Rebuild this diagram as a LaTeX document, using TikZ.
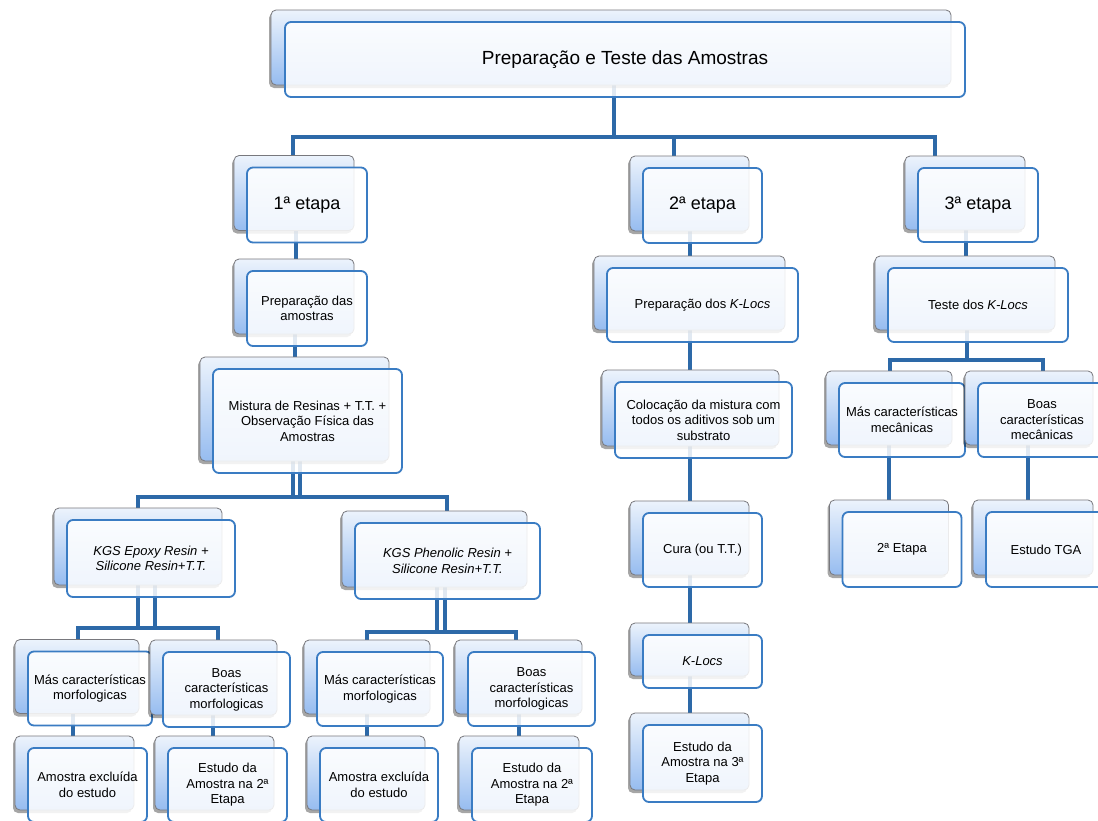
\documentclass[tikz,border=0pt]{standalone}
\usepackage{fontspec}
\setmainfont{Liberation Sans}
\usetikzlibrary{shadows}
\definecolor{connc}{RGB}{45,105,168}
\definecolor{frontblue}{RGB}{58,124,195}
\definecolor{backtop}{RGB}{236,243,252}
\definecolor{backbot}{RGB}{150,188,240}
\definecolor{backdraw}{RGB}{120,120,125}
\pgfdeclarelayer{background}
\pgfsetlayers{background,main}
\newcommand\card[6]{%
  \node[backcard,minimum width=#4pt,minimum height=#5pt] (#1b) at ({#2-13},{#3-12}) {};
  \node[frontcard,minimum width=#4pt,minimum height=#5pt] (#1) at (#2,#3) {#6};}
\tikzset{
  backcard/.style={rectangle,rounded corners=5pt,draw=backdraw,line width=0.8pt,
    top color=backtop,bottom color=backbot,inner sep=0pt,
    drop shadow={shadow xshift=-2pt,shadow yshift=-3pt,opacity=0.35,fill=black}},
  frontcard/.style={rectangle,rounded corners=6pt,draw=frontblue,line width=1.8pt,
    fill=white,fill opacity=0.86,text opacity=1,inner sep=2pt,align=center,
    font=\fontsize{13}{15.5}\selectfont},
  conn/.style={draw=connc,line width=4.5pt},
  big/.style={font=\fontsize{19}{22}\selectfont},
  mid/.style={font=\fontsize{18}{21}\selectfont},
}
\begin{document}
\begin{tikzpicture}[x=1pt,y=-1pt]
\useasboundingbox (0,0) rectangle (1098,820);
% title
\node[backcard,minimum width=680pt,minimum height=75pt] (titleb) at (611,47.5) {};
\node[frontcard,big,minimum width=680pt,minimum height=75pt] (title) at (625,59.5) {Preparação e Teste das Amostras};
% etapas
\tikzset{frontcard/.append style={mid}}
\card{e1}{307}{205}{120}{75}{1ª etapa}
\card{e2}{702.5}{205.5}{119}{75}{2ª etapa}
\card{e3}{978}{205}{120}{74}{3ª etapa}
\tikzset{frontcard/.append style={font=\fontsize{13}{15.5}\selectfont}}
% column 1
\card{prep1}{307}{308.5}{120}{75}{Preparação das\\amostras}
\card{mist}{307.5}{421}{189}{104}{Mistura de Resinas + T.T. +\\Observação Física das\\Amostras}
\card{epoxy}{151}{558.5}{168}{77}{\itshape KGS Epoxy Resin +\\\itshape Silicone Resin+T.T.}
\card{phen}{447.5}{561}{185}{76}{\itshape KGS Phenolic Resin +\\\itshape Silicone Resin+T.T.}
\card{mas1}{90}{688.5}{124}{74}{Más características\\morfologicas}
\card{boas1}{226.5}{689.5}{127}{75}{Boas\\características\\morfologicas}
\card{am1}{87.5}{785}{119}{74}{Amostra excluída\\do estudo}
\card{est1}{227.5}{785}{119}{74}{Estudo da\\Amostra na 2ª\\Etapa}
\card{mas2}{380}{689}{126}{74}{Más características\\morfologicas}
\card{boas2}{531.5}{689}{127}{74}{Boas\\características\\morfologicas}
\card{am2}{379}{785}{118}{74}{Amostra excluída\\do estudo}
\card{est2}{532}{785}{120}{74}{Estudo da\\Amostra na 2ª\\Etapa}
% column 2
\card{prepk}{702.5}{305}{191}{74}{Preparação dos \textit{K-Locs}}
\card{coloc}{703.5}{420}{177}{76}{Colocação da mistura com\\todos os aditivos sob um\\substrato}
\card{cura}{702.5}{550}{119}{74}{Cura (ou T.T.)}
\card{kloc}{702.5}{661.5}{119}{53}{\textit{K-Locs}}
\card{est3}{702.5}{763.5}{119}{77}{Estudo da\\Amostra na 3ª\\Etapa}
% column 3
\card{teste}{978}{305}{180}{74}{Teste dos \textit{K-Locs}}
\card{mas3}{902}{420}{126}{74}{Más características\\mecânicas}
\card{boas3}{1042}{420}{128}{74}{Boas\\características\\mecânicas}
\card{et2}{902}{549.5}{119}{75}{2ª Etapa}
\card{tga}{1046}{549.5}{120}{75}{Estudo TGA}
% junction coordinates
\coordinate (t0) at (614,137);
\coordinate (t1) at (293,137);
\coordinate (t2) at (674,137);
\coordinate (t3) at (935,137);
\coordinate (m0) at (296,497);
\coordinate (m1) at (138,497);
\coordinate (m2) at (447,497);
\coordinate (a1) at (78,628);
\coordinate (a2) at (218,628);
\coordinate (b1) at (367,632);
\coordinate (b2) at (516,632);
\coordinate (c0) at (967,360);
\coordinate (c1) at (890,360);
\coordinate (c2) at (1043,360);
\begin{pgfonlayer}{background}
\fill[white] (0,0) rectangle (1098,820);
\draw[conn] (title.center -| t0) -- (t0);
\draw[conn] (e1b.center -| t1) -- (t1) -- (t3) -- (e3b.center -| t3);
\draw[conn] (t2) -- (e2b.center -| t2);
% column 1
\draw[conn] (e1.center -| 296,0) -- (prep1b.center -| 296,0);
\draw[conn] (prep1.center -| 295,0) -- (mistb.center -| 295,0);
\draw[conn] (mist.center -| 293,0) -- (m0 -| 293,0);
\draw[conn] (mist.center -| 300,0) -- (m0 -| 300,0);
\draw[conn] (epoxyb.center -| m1) -- (m1) -- (m2) -- (phenb.center -| m2);
\draw[conn] (epoxy.center -| 138,0) -- (a1 -| 138,0);
\draw[conn] (epoxy.center -| 155,0) -- (a1 -| 155,0);
\draw[conn] (mas1b.center -| a1) -- (a1) -- (a2) -- (boas1b.center -| a2);
\draw[conn] (phen.center -| 437,0) -- (b1 -| 437,0);
\draw[conn] (phen.center -| 445,0) -- (b1 -| 445,0);
\draw[conn] (mas2b.center -| b1) -- (b1) -- (b2) -- (boas2b.center -| b2);
\draw[conn] (mas1.center -| 73,0) -- (am1b.center -| 73,0);
\draw[conn] (boas1.center -| 213,0) -- (est1b.center -| 213,0);
\draw[conn] (mas2.center -| 367,0) -- (am2b.center -| 367,0);
\draw[conn] (boas2.center -| 519,0) -- (est2b.center -| 519,0);
% column 2
\draw[conn] (e2.center -| 690,0) -- (prepkb.center -| 690,0);
\draw[conn] (prepk.center -| 690,0) -- (colocb.center -| 690,0);
\draw[conn] (coloc.center -| 690,0) -- (curab.center -| 690,0);
\draw[conn] (cura.center -| 690,0) -- (klocb.center -| 690,0);
\draw[conn] (kloc.center -| 690,0) -- (est3b.center -| 690,0);
% column 3
\draw[conn] (e3.center -| 966,0) -- (testeb.center -| 966,0);
\draw[conn] (teste.center -| c0) -- (c0);
\draw[conn] (mas3b.center -| c1) -- (c1) -- (c2) -- (boas3b.center -| c2);
\draw[conn] (mas3.center -| 889,0) -- (et2b.center -| 889,0);
\draw[conn] (boas3.center -| 1028,0) -- (tgab.center -| 1028,0);
\end{pgfonlayer}
\end{tikzpicture}
\end{document}
